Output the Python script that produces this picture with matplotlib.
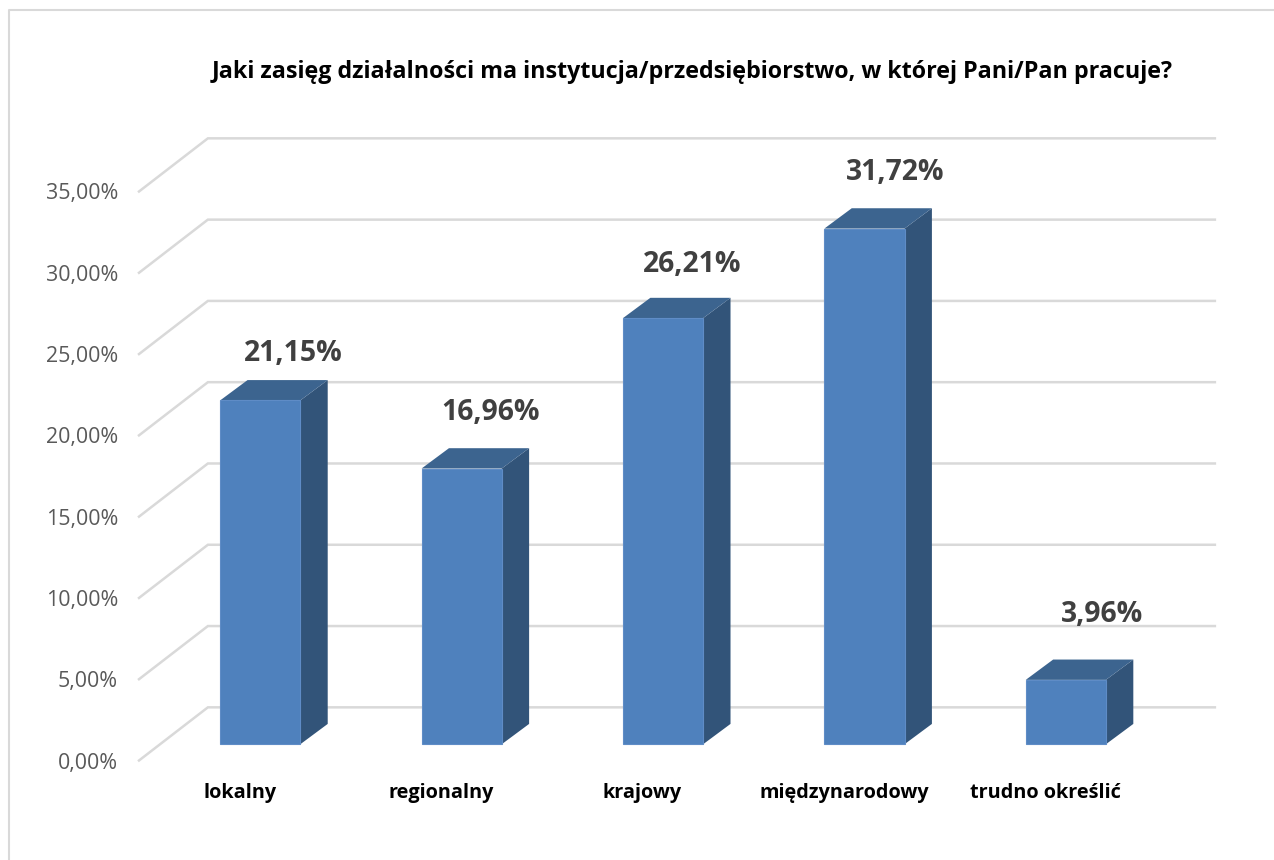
import matplotlib
matplotlib.use('Agg')
import matplotlib.pyplot as plt
from matplotlib.patches import Polygon, Rectangle

plt.rcParams['font.family'] = ['Open Sans', 'DejaVu Sans']

categories = ['lokalny', 'regionalny', 'krajowy', 'międzynarodowy', 'trudno określić']
values = [21.15, 16.96, 26.21, 31.72, 3.96]
labels = ['21,15%', '16,96%', '26,21%', '31,72%', '3,96%']
ticks = [0, 5, 10, 15, 20, 25, 30, 35]
tick_labels = ['0,00%', '5,00%', '10,00%', '15,00%', '20,00%', '25,00%', '30,00%', '35,00%']
title = 'Jaki zasięg działalności ma instytucja/przedsiębiorstwo, w której Pani/Pan pracuje?'

# the labels were moved by hand in the original, so each has its own shift
label_dx = [0.264, 0.244, 0.249, 0.254, 0.284]
label_dy = [2.88, 3.43, 3.31, 3.43, 4.05]

W, H = 1274, 860
fig = plt.figure(figsize=(W / 100, H / 100), dpi=100)

# border of the chart area, open on the right and bottom
fig.add_artist(plt.Line2D([9 / W, 9 / W, 1], [0, 1 - 10 / H, 1 - 10 / H], color='#d9d9d9', lw=1.5))

# axes = front plane of the 3d box
ax = fig.add_axes([139 / W, 1 - 760.5 / H, 1007 / W, 569 / H])
ax.set_xlim(-0.5, 4.5)
ax.set_ylim(0, 35)
for s in ax.spines.values():
    s.set_visible(False)
ax.patch.set_visible(False)

# depth of the wall and of the bars, in data units
wall_dx, wall_dy = 0.342, 3.27
bar_off_x, bar_off_y = 0.102, 1.0
bar_dx, bar_dy = 0.136, 1.25
bar_w = 0.398

grid_col = '#d9d9d9'
for t in ticks:
    ax.plot([-0.5, -0.5 + wall_dx, 4.5 + wall_dx], [t, t + wall_dy, t + wall_dy],
            color=grid_col, lw=1.8, clip_on=False, zorder=1, solid_joinstyle='miter')

for i, v in enumerate(values):
    x0 = i - bar_w / 2 + bar_off_x
    x1 = x0 + bar_w
    y0 = bar_off_y
    y1 = v + bar_off_y
    ax.add_patch(Polygon([(x1, y0), (x1 + bar_dx, y0 + bar_dy), (x1 + bar_dx, y1 + bar_dy), (x1, y1)],
                         fc='#325479', ec='none', clip_on=False, zorder=3))
    ax.add_patch(Polygon([(x0, y1), (x1, y1), (x1 + bar_dx, y1 + bar_dy), (x0 + bar_dx, y1 + bar_dy)],
                         fc='#3c648f', ec='none', clip_on=False, zorder=3))
    ax.add_patch(Rectangle((x0, y0), bar_w, v, fc='#4f81bd', ec='#5f8cc6', lw=0.8, clip_on=False, zorder=4))
    ax.text(i + label_dx[i], y1 + label_dy[i], labels[i], ha='center', va='center', fontsize=20.4,
            fontweight='bold', color='#404040', zorder=5)

ax.set_yticks(ticks)
ax.set_yticklabels(tick_labels, fontsize=15.4, color='#595959')
ax.tick_params(axis='y', length=0, pad=15)
ax.set_xticks(range(len(categories)))
ax.set_xticklabels(categories, fontsize=14.3, fontweight='bold', color='black')
ax.tick_params(axis='x', length=0, pad=16.5)

fig.text(692.5 / W, 1 - 72 / H, title, ha='center', va='center', fontsize=16.77, fontweight='bold', color='black')

fig.savefig('out.png', dpi=100, facecolor='white')
